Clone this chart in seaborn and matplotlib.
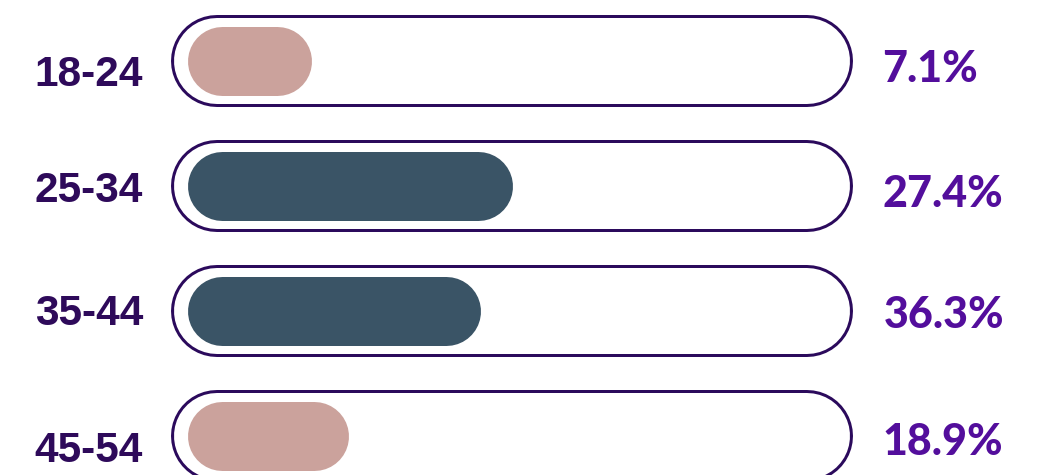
import matplotlib
matplotlib.use("Agg")
import matplotlib.pyplot as plt
import seaborn as sns
import pandas as pd

# ---- data ----
age_groups = ["18-24", "25-34", "35-44", "45-54"]
share_labels = ["7.1%", "27.4%", "36.3%", "18.9%"]
fill_levels = [19.2, 50.0, 45.1, 24.9]          # bar fill, % of track
bar_colors = ["#CBA29C", "#3A5466", "#3A5466", "#CBA29C"]

sns.set_theme(style="white")
plt.rcParams["font.family"] = ["Lato", "DejaVu Sans"]

W, H, DPI = 1037, 475, 100
fig = plt.figure(figsize=(W / DPI, H / DPI), dpi=DPI)
ax = fig.add_axes([0, 0, 1, 1])

# layout: pixel scale of data units
PX_X = 6.5     # px per x unit (track: 0..100)
PX_Y = 125.0   # px per category step
X0_PX = 187.0  # pixel of x = 0
Y0_PX = 60.5   # pixel of first category centre
PT = 72 / DPI  # points per pixel

df = pd.DataFrame({"age": age_groups, "fill": fill_levels})
bar_h = 69 / PX_Y
sns.barplot(data=df, x="fill", y="age", orient="h", hue="age",
            palette=bar_colors, saturation=1, legend=False, width=bar_h, ax=ax)

ax.set_xlim(-X0_PX / PX_X, (W - X0_PX) / PX_X)
ax.set_ylim((H - Y0_PX) / PX_Y, -Y0_PX / PX_Y)
ax.axis("off")

# tracks (outlined pills) drawn as round-capped thick lines
track_left_px, track_right_px = 171.0, 853.0
track_hpx = 92.0
r_out = track_hpx / 2
for i in range(len(age_groups)):
    xs = [(track_left_px + r_out - X0_PX) / PX_X, (track_right_px - r_out - X0_PX) / PX_X]
    ax.plot(xs, [i, i], color="#2B0A5C", lw=track_hpx * PT, solid_capstyle="round", zorder=1)
    ax.plot(xs, [i, i], color="white", lw=(track_hpx - 6) * PT, solid_capstyle="round", zorder=1.5)

# replace seaborn rectangles with rounded pills (same geometry)
r_in = 69 / 2 / PX_X
for p in list(ax.patches):
    x, y, w, h = p.get_x(), p.get_y(), p.get_width(), p.get_height()
    fc = p.get_facecolor()
    yc = y + h / 2
    p.set_visible(False)
    ax.plot([x + r_in, x + w - r_in], [yc, yc], color=fc, lw=h * PX_Y * PT,
            solid_capstyle="round", zorder=2)

# labels
left_base = [25.5, 16.5, 14.5, 26.5]    # px below row centre
right_base = [21.5, 21.5, 17.5, 19.5]
right_x = [882, 882, 884, 882]
for i, (a, s) in enumerate(zip(age_groups, share_labels)):
    ax.text((143 - X0_PX) / PX_X, i + left_base[i] / PX_Y, a, ha="right", va="baseline",
            fontsize=30.5, fontweight="bold", color="#2E0A5A", zorder=3,
            family=["Liberation Sans", "DejaVu Sans"])
    ax.text((right_x[i] - X0_PX) / PX_X, i + right_base[i] / PX_Y, s, ha="left", va="baseline",
            fontsize=31, fontweight="black", color="#530E9C", zorder=3)

fig.savefig("out.png", dpi=DPI)
